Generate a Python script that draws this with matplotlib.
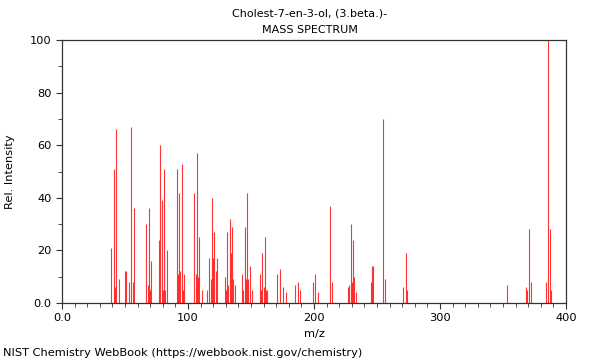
import numpy as np
import matplotlib
matplotlib.use('Agg')
import matplotlib.pyplot as plt
from matplotlib.ticker import MultipleLocator, FuncFormatter

# m/z and relative intensity
mz = [39, 41, 42, 43, 45, 50, 51, 53, 55, 56, 57,
      67, 68, 69, 70, 71, 77, 78, 79, 80, 81, 82, 83,
      91, 92, 93, 94, 95, 96, 97, 105, 106, 107, 108, 109, 111,
      115, 117, 118, 119, 120, 121, 122, 123,
      129, 130, 131, 132, 133, 134, 135, 136, 137,
      143, 144, 145, 146, 147, 148, 149, 151,
      157, 158, 159, 160, 161, 162, 163,
      171, 173, 175, 178, 185, 187, 189, 199, 201, 203,
      213, 214, 227, 228, 229, 230, 231, 232, 233,
      245, 246, 247, 255, 256, 271, 273, 274,
      353, 368, 369, 371, 372, 384, 386, 387, 388]
intensity = [21, 51, 6, 66, 9, 12, 12, 8, 67, 8, 36,
             30, 7, 36, 5, 16, 24, 60, 39, 5, 51, 5, 20,
             51, 11, 42, 12, 53, 5, 11, 42, 11, 57, 10, 25, 5,
             5, 17, 9, 40, 17, 27, 12, 17,
             10, 5, 27, 7, 32, 19, 29, 9, 7,
             11, 5, 29, 9, 42, 9, 14, 5,
             11, 5, 19, 6, 25, 5, 5,
             11, 13, 6, 4, 7, 8, 5, 8, 11, 4,
             37, 8, 6, 7, 30, 8, 24, 10, 4,
             8, 14, 14, 70, 9, 6, 19, 5,
             7, 6, 5, 28, 8, 8, 100, 28, 5]

title = 'Cholest-7-en-3-ol, (3.beta.)-'
footer = 'NIST Chemistry WebBook (https://webbook.nist.gov/chemistry)'

fig = plt.figure(figsize=(6, 3.6), dpi=100, facecolor='white')
ax = fig.add_axes([62/600, 57/360, 504/600, 263/360])

ax.vlines(mz, 0, intensity, colors='#ff0000', linewidth=0.8, alpha=0.8)

ax.set_xlim(0, 400)
ax.set_ylim(0, 100)
ax.xaxis.set_major_locator(MultipleLocator(100))
ax.xaxis.set_minor_locator(MultipleLocator(10))
ax.yaxis.set_major_locator(MultipleLocator(20))
ax.yaxis.set_minor_locator(MultipleLocator(10))

fmt = FuncFormatter(lambda v, p: '0.0' if v == 0 else '%d' % v)
ax.xaxis.set_major_formatter(fmt)
ax.yaxis.set_major_formatter(fmt)

for s in ax.spines.values():
    s.set_color('#333333')
    s.set_linewidth(0.9)
ax.tick_params(which='both', direction='out', colors='#333333', labelsize=8.2,
               labelcolor='black')
ax.tick_params(which='major', length=4)
ax.tick_params(which='minor', length=3)

ax.set_xlabel('m/z', fontsize=8.2, labelpad=4)
ax.set_ylabel('Rel. Intensity', fontsize=8.2, labelpad=11)

fig.text(0.5 + 10/600, 1 - 13/360, title, ha='center', va='center', fontsize=8)
fig.text(0.5 + 10/600, 1 - 30/360, 'MASS SPECTRUM', ha='center', va='center', fontsize=8)
fig.text(3/600, 1 - 353/360, footer, ha='left', va='center', fontsize=8.2)

fig.savefig('out.png', dpi=100, facecolor='white')
